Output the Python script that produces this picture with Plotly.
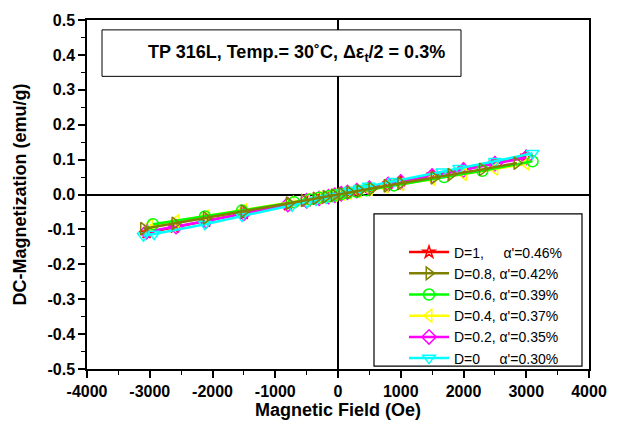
import plotly.graph_objects as go

# ---------------- data ----------------
names = ["D=1,\u00a0\u00a0\u00a0\u00a0 α'=0.46%",
         "D=0.8, α'=0.42%",
         "D=0.6, α'=0.39%",
         "D=0.4, α'=0.37%",
         "D=0.2, α'=0.35%",
         "D=0\u00a0\u00a0\u00a0\u00a0 α'=0.30%"]

h_d1 = [-3050, -2600, -2100, -1500, -800, -500, -300, -150, -50, 50, 150, 300, 500, 800, 1000, 1500, 2000, 2500, 3000]
m_d1 = [-0.110, -0.094, -0.077, -0.055, -0.030, -0.019, -0.011, -0.006, -0.002, 0.002, 0.006, 0.012, 0.019, 0.030, 0.038, 0.055, 0.073, 0.091, 0.110]

h_d08 = [-3100, -2600, -2100, -1500, -780, -540, -350, -190, -60, 60, 190, 350, 540, 780, 1000, 1530, 1800, 2300, 2850]
m_d08 = [-0.098, -0.083, -0.067, -0.048, -0.025, -0.017, -0.011, -0.006, -0.002, 0.002, 0.006, 0.011, 0.017, 0.025, 0.032, 0.048, 0.057, 0.072, 0.090]

h_d06 = [-2950, -2120, -1530, -700, -450, -300, -150, -50, 50, 150, 300, 450, 890, 1690, 2300, 3100]
m_d06 = [-0.085, -0.063, -0.046, -0.022, -0.014, -0.009, -0.005, -0.002, 0.001, 0.004, 0.008, 0.012, 0.026, 0.050, 0.068, 0.095]

h_d04 = [-3000, -2580, -2100, -1500, -750, -500, -320, -170, -60, 60, 170, 320, 500, 750, 1000, 1500, 2000, 2500, 3000]
m_d04 = [-0.088, -0.076, -0.062, -0.044, -0.022, -0.015, -0.009, -0.005, -0.002, 0.001, 0.004, 0.009, 0.014, 0.022, 0.029, 0.044, 0.058, 0.073, 0.088]

h_d02 = [-3050, -2580, -2100, -1500, -800, -500, -300, -150, -50, 50, 150, 300, 500, 800, 1000, 1500, 2000, 2500, 3000]
m_d02 = [-0.107, -0.092, -0.076, -0.054, -0.029, -0.018, -0.011, -0.006, -0.002, 0.002, 0.006, 0.011, 0.018, 0.029, 0.036, 0.053, 0.070, 0.088, 0.106]

h_d0 = [-3100, -2930, -2120, -1530, -730, -490, -350, -190, -80, 80, 190, 350, 490, 890, 1660, 1930, 2500, 3100]
m_d0 = [-0.118, -0.113, -0.085, -0.062, -0.032, -0.022, -0.016, -0.010, -0.005, 0.006, 0.012, 0.018, 0.024, 0.038, 0.065, 0.075, 0.095, 0.118]

fields = [h_d1, h_d08, h_d06, h_d04, h_d02, h_d0]
mags = [m_d1, m_d08, m_d06, m_d04, m_d02, m_d0]
colors = ["#FF0000", "#808000", "#00FF00", "#FFFF00", "#FF00FF", "#00FFFF"]
symbols = ["star-open", "triangle-right-open", "circle-open", "triangle-left-open", "diamond-open", "triangle-down-open"]

x_ticks = [-4000, -3000, -2000, -1000, 0, 1000, 2000, 3000, 4000]
x_ticktext = ["-4000", "-3000", "-2000", "-1000", "0", "1000", "2000", "3000", "4000"]
y_ticks = [0.5, 0.4, 0.3, 0.2, 0.1, 0.0, -0.1, -0.2, -0.3, -0.4, -0.5]
y_ticktext = ["0.5", "0.4", "0.3", "0.2", "0.1", "0.0", "-0.1", "-0.2", "-0.3", "-0.4", "-0.5"]

FONT = "Arial, Liberation Sans, sans-serif"

fig = go.Figure()
order = [0, 4, 3, 2, 5, 1]  # drawing order (olive on top)
for i in order:
    fig.add_trace(go.Scatter(
        x=fields[i], y=mags[i], mode="lines+markers", name=names[i],
        line=dict(color=colors[i], width=2.5),
        marker=dict(symbol=symbols[i], size=9 if i == 0 else 11, color=colors[i],
                    line=dict(color=colors[i], width=1.5)),
        legendrank=i + 1,
    ))

axis_common = dict(
    showline=True, linecolor="black", linewidth=1.5, mirror=True,
    ticks="outside", ticklen=7, tickwidth=1.5, tickcolor="black",
    showgrid=False, zeroline=True, zerolinecolor="black", zerolinewidth=1.5,
    tickfont=dict(family=FONT, size=16, color="black", weight="bold"),
)

fig.update_xaxes(
    range=[-4000, 4000], tickvals=x_ticks, ticktext=["<b>%s</b>" % t for t in x_ticktext],
    minor=dict(ticks="outside", ticklen=4, tickwidth=1.2, tickcolor="black", dtick=500, tick0=0, showgrid=False),
    title=dict(text="<b>Magnetic Field (Oe)</b>", font=dict(family=FONT, size=18, color="black"), standoff=4),
    **axis_common)
fig.update_yaxes(
    range=[-0.5, 0.5], tickvals=y_ticks, ticktext=["<b>%s</b>" % t for t in y_ticktext],
    minor=dict(ticks="outside", ticklen=4, tickwidth=1.2, tickcolor="black", dtick=0.05, tick0=0, showgrid=False),
    title=dict(text="<b>DC-Magnetization (emu/g)</b>", font=dict(family=FONT, size=18, color="black"), standoff=16),
    **axis_common)

# title box
fig.add_shape(type="rect", xref="paper", yref="paper",
              x0=(102 - 87) / 502, x1=(461 - 87) / 502,
              y0=(373 - 77) / 353, y1=(373 - 30) / 353,
              line=dict(color="black", width=1), fillcolor="white", layer="above")
fig.add_annotation(xref="paper", yref="paper",
                   x=(296 - 87) / 502, y=(373 - 54) / 353, xanchor="center", yanchor="middle",
                   text="<b>TP 316L, Temp.= 30˚C, Δε<sub>t</sub>/2 = 0.3%</b>",
                   showarrow=False, font=dict(family=FONT, size=18, color="black"))

# legend box
fig.add_shape(type="rect", xref="paper", yref="paper",
              x0=(374 - 87) / 502, x1=(582 - 87) / 502,
              y0=(373 - 370) / 353, y1=(373 - 216) / 353,
              line=dict(color="black", width=1.2), fillcolor="white", layer="above")

fig.update_layout(
    width=625, height=429,
    margin=dict(l=87, r=36, t=20, b=56),
    paper_bgcolor="white", plot_bgcolor="white",
    showlegend=True,
    legend=dict(x=(404 - 87) / 502, y=(373 - 239) / 353, xanchor="left", yanchor="top",
                bgcolor="rgba(0,0,0,0)", borderwidth=0,
                font=dict(family=FONT, size=14, color="black"),
                traceorder="normal", itemwidth=40, tracegroupgap=0),
)

fig.write_html("out.html")
